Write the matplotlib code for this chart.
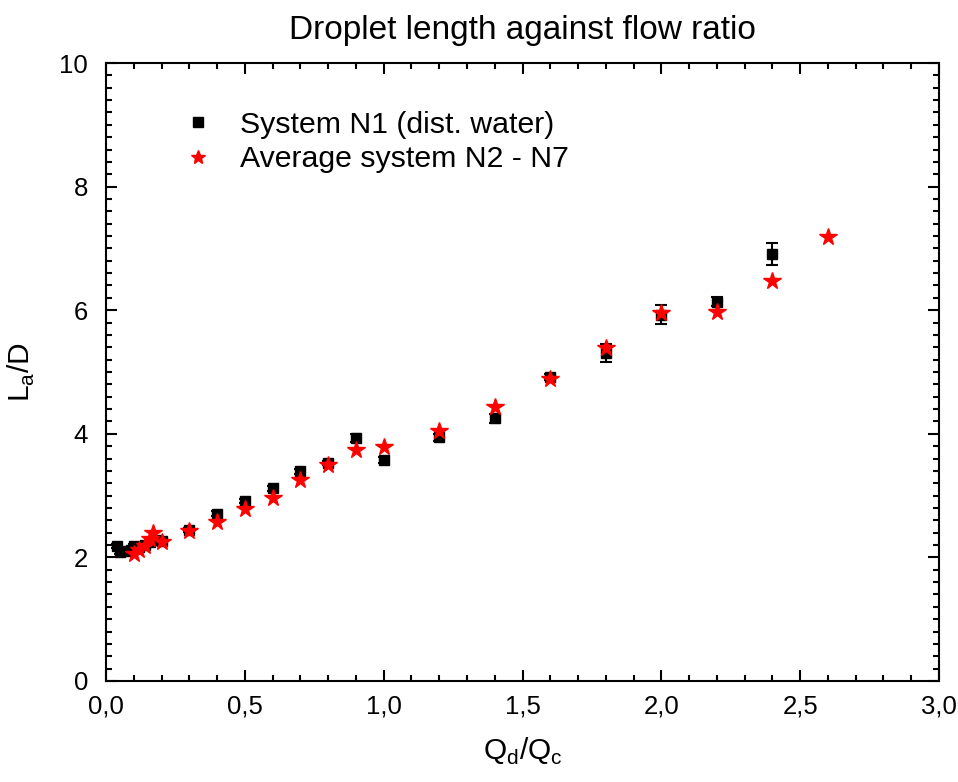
import matplotlib
matplotlib.use("Agg")
import matplotlib.pyplot as plt
from matplotlib.lines import Line2D
from matplotlib.ticker import MultipleLocator, FuncFormatter

plt.rcParams['font.family'] = ['Liberation Sans', 'DejaVu Sans']

# System N1 (distilled water): flow ratio, droplet length and error
n1_x = [0.04, 0.05, 0.07, 0.09, 0.10, 0.12, 0.14, 0.16, 0.18, 0.20,
        0.3, 0.4, 0.5, 0.6, 0.7, 0.8, 0.9, 1.0, 1.2, 1.4, 1.6, 1.8, 2.0, 2.2, 2.4]
n1_y = [2.18, 2.08, 2.10, 2.12, 2.18, 2.16, 2.20, 2.25, 2.28, 2.27,
        2.44, 2.71, 2.91, 3.12, 3.39, 3.53, 3.93, 3.57, 3.94, 4.25, 4.92, 5.31, 5.93, 6.14, 6.91]
n1_err = [0.03, 0.03, 0.03, 0.03, 0.03, 0.03, 0.03, 0.03, 0.03, 0.03,
          0.03, 0.04, 0.03, 0.04, 0.04, 0.03, 0.06, 0.05, 0.05, 0.07, 0.05, 0.15, 0.16, 0.08, 0.18]

# Average of systems N2 - N7
avg_x = [0.10, 0.12, 0.14, 0.16, 0.17, 0.20,
         0.3, 0.4, 0.5, 0.6, 0.7, 0.8, 0.9, 1.0, 1.2, 1.4, 1.6, 1.8, 2.0, 2.2, 2.4, 2.6]
avg_y = [2.05, 2.12, 2.18, 2.30, 2.39, 2.25,
         2.42, 2.57, 2.79, 2.96, 3.26, 3.49, 3.73, 3.79, 4.05, 4.43, 4.88, 5.39, 5.96, 5.97, 6.48, 7.18]

labels = ['System N1 (dist. water)', 'Average system N2 - N7']

fig = plt.figure(figsize=(9.58, 7.82), dpi=100)
ax = fig.add_axes([0.1107, 0.1292, 0.8695, 0.7902])

ax.errorbar(n1_x, n1_y, yerr=n1_err, fmt='s', color='black', ms=7.5,
            ecolor='black', elinewidth=1.5, capsize=4, capthick=1.5, zorder=2)
ax.plot(avg_x, avg_y, linestyle='none', marker='*', color='red', ms=13,
        mec='red', zorder=3)

ax.set_xlim(0, 3.0)
ax.set_ylim(0, 10)
ax.xaxis.set_major_locator(MultipleLocator(0.5))
ax.xaxis.set_minor_locator(MultipleLocator(0.1))
ax.yaxis.set_major_locator(MultipleLocator(2))
ax.yaxis.set_minor_locator(MultipleLocator(0.2))
ax.xaxis.set_major_formatter(FuncFormatter(lambda v, p: f"{v:.1f}".replace('.', ',')))
ax.yaxis.set_major_formatter(FuncFormatter(lambda v, p: f"{v:.0f}"))

ax.tick_params(which='both', direction='in', top=True, right=True, width=1.5)
ax.tick_params(which='major', length=8, labelsize=18.5)
ax.tick_params(which='minor', length=4.5)
ax.tick_params(axis='x', which='major', pad=10)
ax.tick_params(axis='y', which='major', pad=13)
for s in ax.spines.values():
    s.set_linewidth(1.5)

ax.set_xlabel(r'Q$_\mathregular{d}$/Q$_\mathregular{c}$', fontsize=21.5, labelpad=12)
ax.set_ylabel(r'L$_\mathregular{a}$/D', fontsize=21.5, labelpad=16)
ax.set_title('Droplet length against flow ratio', fontsize=24, pad=17)

handles = [Line2D([], [], linestyle='none', marker='s', color='black', ms=7),
           Line2D([], [], linestyle='none', marker='*', color='red', ms=10)]
ax.legend(handles, labels, loc='upper left', bbox_to_anchor=(0.05, 0.967),
          frameon=False, fontsize=21.8, handletextpad=0.66, labelspacing=0.22,
          handlelength=1.5)

fig.savefig('out.png', dpi=100)
